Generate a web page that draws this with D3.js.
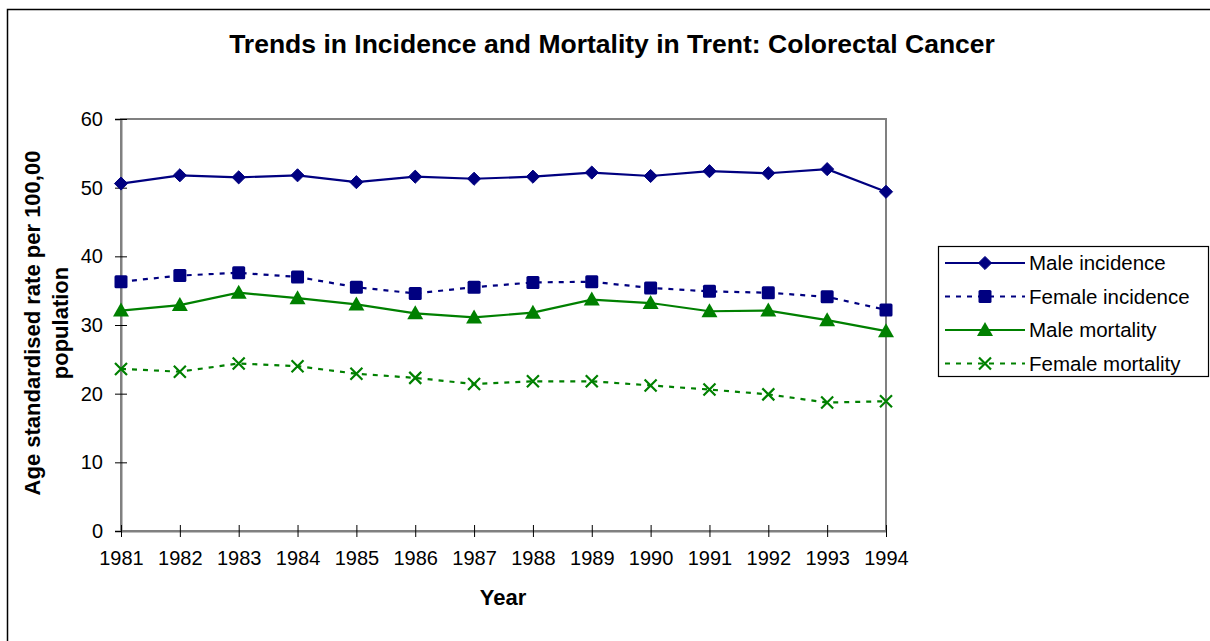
<!DOCTYPE html>
<html>
<head>
<meta charset="utf-8">
<script src="https://cdn.jsdelivr.net/npm/d3@7"></script>
<style>
  body { margin: 0; background: #fff; }
  text { font-family: "Liberation Sans", Arial, sans-serif; }
</style>
</head>
<body>
<div id="chart"></div>
<script>
var years = ["1981","1982","1983","1984","1985","1986","1987","1988","1989","1990","1991","1992","1993","1994"];
var maleIncidence   = [50.6, 51.8, 51.5, 51.8, 50.8, 51.6, 51.3, 51.6, 52.2, 51.7, 52.4, 52.1, 52.7, 49.4];
var femaleIncidence = [36.3, 37.2, 37.6, 37.0, 35.5, 34.6, 35.5, 36.2, 36.3, 35.4, 34.9, 34.7, 34.1, 32.2];
var maleMortality   = [32.1, 32.9, 34.7, 33.9, 33.0, 31.7, 31.1, 31.8, 33.7, 33.2, 32.0, 32.1, 30.7, 29.1];
var femaleMortality = [23.6, 23.2, 24.4, 24.0, 22.9, 22.3, 21.4, 21.8, 21.8, 21.2, 20.6, 19.9, 18.7, 18.9];
var yTicks = [0, 10, 20, 30, 40, 50, 60];

var series = [
  { name: "Male incidence",   values: maleIncidence,   color: "#000080", dash: null,  marker: "diamond" },
  { name: "Female incidence", values: femaleIncidence, color: "#000080", dash: "5,6", marker: "square" },
  { name: "Male mortality",   values: maleMortality,   color: "#008000", dash: null,  marker: "triangle" },
  { name: "Female mortality", values: femaleMortality, color: "#008000", dash: "5,6", marker: "cross" }
];

var svgWidth = 1210, svgHeight = 641;
var plot = { left: 121, top: 119, right: 886, bottom: 531 };

var svg = d3.select("#chart").append("svg")
  .attr("width", svgWidth)
  .attr("height", svgHeight);

// outer chart border (runs off the page on right/bottom)
svg.append("rect")
  .attr("x", 7.5).attr("y", 9.5)
  .attr("width", 1220).attr("height", 660)
  .attr("fill", "none").attr("stroke", "#000").attr("stroke-width", 1.5);

svg.append("text")
  .attr("x", 612).attr("y", 53)
  .attr("text-anchor", "middle")
  .attr("font-size", "26.5px").attr("font-weight", "bold")
  .text("Trends in Incidence and Mortality in Trent: Colorectal Cancer");

var x = d3.scalePoint().domain(years).range([plot.left, plot.right]);
var y = d3.scaleLinear().domain([0, 60]).range([plot.bottom, plot.top]);

// plot area frame
svg.append("rect")
  .attr("x", plot.left).attr("y", plot.top)
  .attr("width", plot.right - plot.left).attr("height", plot.bottom - plot.top)
  .attr("fill", "none").attr("stroke", "#808080").attr("stroke-width", 2);

// y axis
var yAxis = svg.append("g")
  .attr("transform", "translate(" + plot.left + ",0)")
  .call(d3.axisLeft(y).tickValues(yTicks).tickSize(6).tickPadding(12));
yAxis.select(".domain").attr("stroke", "#808080").attr("stroke-width", 2);
yAxis.selectAll(".tick line").attr("x2", 6).attr("x1", -6).attr("stroke", "#000");
yAxis.selectAll(".tick text").attr("font-size", "20px").attr("fill", "#000")
  .attr("font-family", "Liberation Sans, Arial, sans-serif");

// x axis
var xAxis = svg.append("g")
  .attr("transform", "translate(0," + plot.bottom + ")")
  .call(d3.axisBottom(x).tickSize(6).tickPadding(14).tickSizeOuter(0));
xAxis.select(".domain").attr("stroke", "#808080").attr("stroke-width", 2);
xAxis.selectAll(".tick line").attr("y1", -6).attr("y2", 6).attr("stroke", "#000");
xAxis.selectAll(".tick text").attr("font-size", "20px").attr("fill", "#000")
  .attr("font-family", "Liberation Sans, Arial, sans-serif");

// axis titles
svg.append("text")
  .attr("x", 503).attr("y", 605)
  .attr("text-anchor", "middle")
  .attr("font-size", "22px").attr("font-weight", "bold")
  .text("Year");

var yTitle = svg.append("text")
  .attr("transform", "translate(32,323) rotate(-90)")
  .attr("text-anchor", "middle")
  .attr("font-size", "22px").attr("font-weight", "bold");
yTitle.append("tspan").attr("x", 0).attr("y", 8).text("Age standardised rate per 100,00");
yTitle.append("tspan").attr("x", 0).attr("y", 36).text("population");

function drawMarker(g, type, color, cx, cy) {
  if (type === "diamond") {
    g.append("path").attr("d", d3.symbol(d3.symbolDiamond2, 110)())
      .attr("transform", "translate(" + cx + "," + cy + ")")
      .attr("fill", color).attr("stroke", color).attr("stroke-width", 1);
  } else if (type === "square") {
    g.append("rect").attr("x", cx - 6.5).attr("y", cy - 6.5)
      .attr("width", 13).attr("height", 13).attr("rx", 1.5)
      .attr("fill", color);
  } else if (type === "triangle") {
    g.append("path")
      .attr("d", "M" + cx + "," + (cy - 8) + "L" + (cx + 8) + "," + (cy + 6) + "L" + (cx - 8) + "," + (cy + 6) + "Z")
      .attr("fill", color);
  } else if (type === "cross") {
    g.append("path")
      .attr("d", "M" + (cx - 6) + "," + (cy - 6) + "L" + (cx + 6) + "," + (cy + 6) +
                 "M" + (cx + 6) + "," + (cy - 6) + "L" + (cx - 6) + "," + (cy + 6))
      .attr("stroke", color).attr("stroke-width", 2.2).attr("fill", "none");
  }
}

var line = d3.line()
  .x(function(d, i) { return x(years[i]); })
  .y(function(d) { return y(d); });

series.forEach(function(s) {
  var g = svg.append("g");
  g.append("path")
    .datum(s.values)
    .attr("d", line)
    .attr("fill", "none")
    .attr("stroke", s.color)
    .attr("stroke-width", 2.2)
    .attr("stroke-dasharray", s.dash);
  s.values.forEach(function(v, i) {
    drawMarker(g, s.marker, s.color, x(years[i]), y(v));
  });
});

// legend
var legend = svg.append("g");
legend.append("rect")
  .attr("x", 938.5).attr("y", 246.5)
  .attr("width", 270).attr("height", 130)
  .attr("fill", "#fff").attr("stroke", "#000").attr("stroke-width", 1.2);

series.forEach(function(s, i) {
  var ly = 263 + i * 33.5;
  var row = legend.append("g");
  row.append("line")
    .attr("x1", 945).attr("x2", 1025).attr("y1", ly).attr("y2", ly)
    .attr("stroke", s.color).attr("stroke-width", 2.2)
    .attr("stroke-dasharray", s.dash);
  drawMarker(row, s.marker, s.color, 985, ly);
  row.append("text")
    .attr("x", 1029).attr("y", ly + 7)
    .attr("font-size", "20.5px")
    .text(s.name);
});
</script>
</body>
</html>
